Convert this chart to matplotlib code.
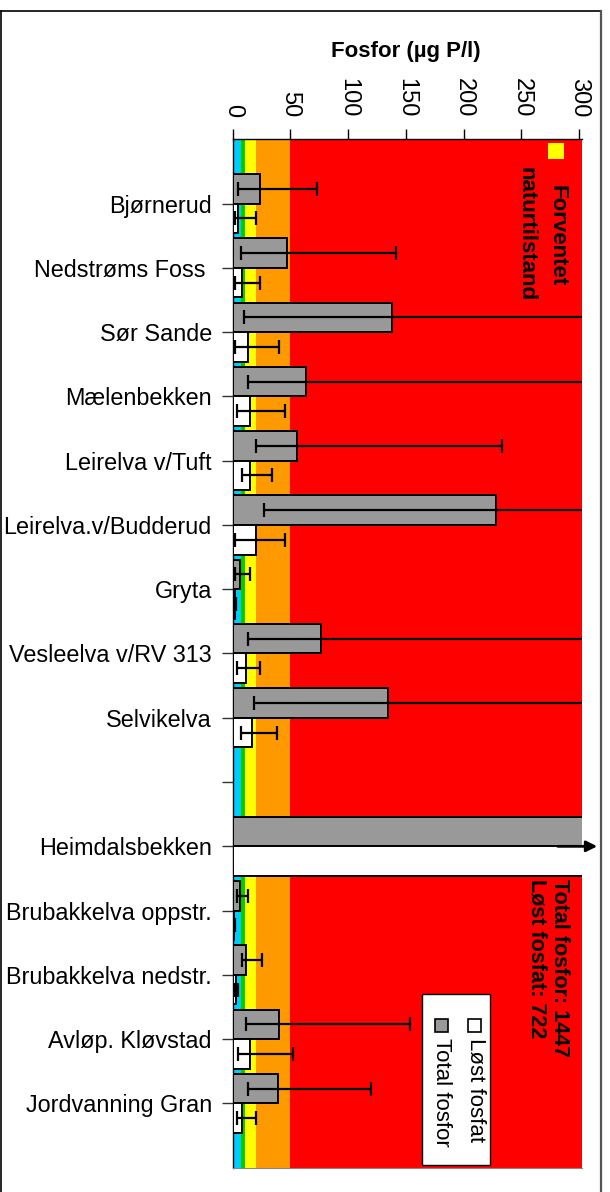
import matplotlib
matplotlib.use('Agg')
import matplotlib.pyplot as plt
from matplotlib.patches import Rectangle
from matplotlib.lines import Line2D
import numpy as np

plt.rcParams['font.family'] = ['Liberation Sans', 'DejaVu Sans']

# stations, top to bottom ('' is the empty gap row)
stations = ['Bjørnerud', 'Nedstrøms Foss ', 'Sør Sande', 'Mælenbekken',
            'Leirelva v/Tuft', 'Leirelva.v/Budderud', 'Gryta',
            'Vesleelva v/RV 313', 'Selvikelva', '', 'Heimdalsbekken',
            'Brubakkelva oppstr.', 'Brubakkelva nedstr.', 'Avløp. Kløvstad',
            'Jordvanning Gran']

# total phosphorus, mean with min / max (µg P/l)
total = [23.6, 47.3, 138.0, 63.7, 55.7, 227.7, 6.3, 76.2, 134.8, np.nan,
         1447, 6.3, 11.5, 40.3, 39.0]
total_min = [4.9, 6.9, 9.8, 13.5, 20.2, 27.1, 2.0, 13.5, 18.4, np.nan,
             np.nan, 3.5, 7.8, 11.5, 13.5]
total_max = [72.7, 141.4, 420.0, 390.0, 232.9, 560.0, 15.3, 330.0, 360.0,
             np.nan, np.nan, 13.5, 25.1, 153.5, 119.7]

# dissolved phosphate, mean with min / max (µg P/l)
losst = [4.9, 8.3, 13.5, 15.0, 15.0, 20.2, 2.0, 11.5, 16.4, np.nan,
         722, 1.5, 3.0, 15.0, 8.3]
losst_min = [2.0, 2.0, 2.0, 3.5, 7.8, 2.0, 1.0, 3.5, 6.9, np.nan,
             np.nan, 0.8, 1.4, 4.9, 3.5]
losst_max = [20.2, 23.6, 40.0, 45.3, 33.8, 45.3, 3.0, 23.6, 38.6, np.nan,
             np.nan, 2.2, 4.9, 52.5, 20.2]

# class limits (SFT) for total phosphorus and their colours
class_edges = [0, 7, 11, 20, 50, 302]
class_colors = ['#00ccff', '#00cc00', '#ffff00', '#ff9900', '#ff0000']

ticks = [0, 50, 100, 150, 200, 250, 300]

W, H = 610, 1192


def fx(px):
    return px / W


def fy(py):
    return 1 - py / H


fig = plt.figure(figsize=(W / 100, H / 100), dpi=100)
ax = fig.add_axes([fx(232.7), fy(1167.7), (581.5 - 232.7) / W, (1167.7 - 139.3) / H])

for lo, hi, col in zip(class_edges[:-1], class_edges[1:], class_colors):
    ax.axvspan(lo, hi, color=col, lw=0, zorder=0)

y = np.arange(len(stations))
total = np.array(total)
losst = np.array(losst)
h = 0.46
off = 0.23

ax.barh(y - off, total, height=h, color='#999999', edgecolor='black',
        linewidth=1.4, zorder=3)
ax.barh(y + off, losst, height=h, color='white', edgecolor='black',
        linewidth=1.4, zorder=3)

t_err = [total - np.array(total_min), np.array(total_max) - total]
l_err = [losst - np.array(losst_min), np.array(losst_max) - losst]
ax.errorbar(total, y - off, xerr=t_err, fmt='none', ecolor='black',
            elinewidth=1.6, capsize=5, capthick=1.6, zorder=4)
ax.errorbar(losst, y + off, xerr=l_err, fmt='none', ecolor='black',
            elinewidth=1.6, capsize=5, capthick=1.6, zorder=4)

ax.set_xlim(0, 302)
ax.set_ylim(15, -1)

ax.xaxis.tick_top()
ax.set_xticks(ticks)
ax.set_xticklabels([str(t) for t in ticks], rotation=270, fontsize=17)
ax.tick_params(axis='x', direction='out', length=7, width=1, pad=9)

ax.set_yticks(y)
ax.set_yticklabels(stations, fontsize=16.8)
ax.tick_params(axis='y', direction='out', length=8, width=1, pad=7,
               color='#333333')

ax.spines['right'].set_visible(False)
ax.spines['bottom'].set_color('#888888')
ax.spines['top'].set_linewidth(1)
ax.spines['left'].set_linewidth(1)

# arrow for the off-scale Heimdalsbekken values
ax.annotate('', xy=(318, 10), xytext=(279, 10),
            arrowprops=dict(arrowstyle='-|>', color='black', lw=2,
                            mutation_scale=16),
            annotation_clip=False, zorder=6)

fig.text(fx(406), fy(52), 'Fosfor (µg P/l)', ha='center', va='center',
         fontsize=16, fontweight='bold')

# "expected natural state" marker
fig.add_artist(Rectangle((fx(548), fy(159)), 16 / W, 16 / H,
                         transform=fig.transFigure, facecolor='#ffff00',
                         edgecolor='none', zorder=5))
fig.text(fx(557), fy(236), 'Forventet', rotation=270, ha='center',
         va='center', fontsize=16, fontweight='bold', zorder=6)
fig.text(fx(526), fy(234), 'naturtilstand', rotation=270, ha='center',
         va='center', fontsize=16, fontweight='bold', zorder=6)

fig.text(fx(560), fy(879), f'Total fosfor: {total[10]:.0f}', rotation=270,
         ha='center', va='top', fontsize=15.5, fontweight='bold', zorder=6)
fig.text(fx(537), fy(879), f'Løst fosfat: {losst[10]:.0f}', rotation=270,
         ha='center', va='top', fontsize=15.5, fontweight='bold', zorder=6)

# legend, turned like the rest of the chart
fig.add_artist(Rectangle((fx(421.7), fy(1165)), (490 - 421.7) / W,
                         (1165 - 994) / H, transform=fig.transFigure,
                         facecolor='white', edgecolor='black', lw=1,
                         zorder=5))
fig.add_artist(Rectangle((fx(468), fy(1032)), 13 / W, 13 / H,
                         transform=fig.transFigure, facecolor='white',
                         edgecolor='black', lw=1.2, zorder=6))
fig.add_artist(Rectangle((fx(435), fy(1032)), 13 / W, 13 / H,
                         transform=fig.transFigure, facecolor='#999999',
                         edgecolor='black', lw=1.2, zorder=6))
fig.text(fx(475), fy(1038), 'Løst fosfat', rotation=270, ha='center',
         va='top', fontsize=16, zorder=7)
fig.text(fx(441), fy(1038), 'Total fosfor', rotation=270, ha='center',
         va='top', fontsize=16, zorder=7)

# chart frame
fig.add_artist(Line2D([fx(0.5), fx(601)], [fy(11), fy(11)],
                      transform=fig.transFigure, color='black', lw=1.2))
fig.add_artist(Line2D([fx(0.5), fx(0.5)], [fy(11), fy(1192)],
                      transform=fig.transFigure, color='black', lw=1.2))
fig.add_artist(Line2D([fx(601), fx(601)], [fy(11), fy(1192)],
                      transform=fig.transFigure, color='#555555', lw=1.6))

fig.savefig('out.png', dpi=100)
